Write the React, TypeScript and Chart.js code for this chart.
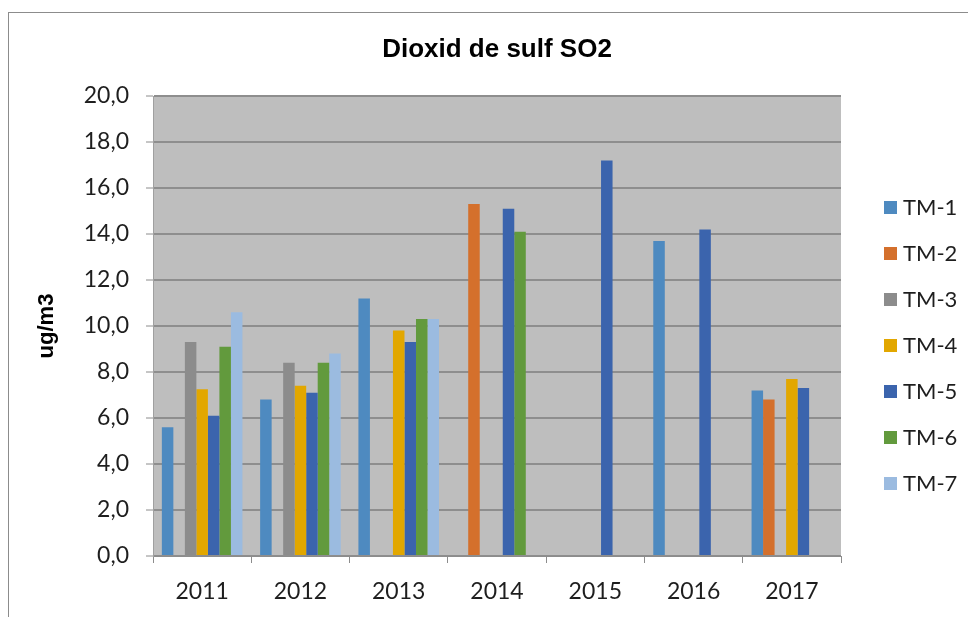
import React, { useEffect, useRef } from "react";
import { Chart, registerables } from "chart.js";

Chart.register(...registerables);

const TITLE = "Dioxid de sulf SO2";
const Y_TITLE = "ug/m3";
const YEARS = ["2011", "2012", "2013", "2014", "2015", "2016", "2017"];
const SERIES_NAMES = ["TM-1", "TM-2", "TM-3", "TM-4", "TM-5", "TM-6", "TM-7"];
const SERIES_COLORS = ["#4E8AC0", "#D4702C", "#8C8C8C", "#E2A700", "#3B64AD", "#629A3D", "#9BBBE0"];

const TM1 = [5.6, 6.8, 11.2, null, null, 13.7, 7.2];
const TM2 = [null, null, null, 15.3, null, null, 6.8];
const TM3 = [9.3, 8.4, null, null, null, null, null];
const TM4 = [7.25, 7.4, 9.8, null, null, null, 7.7];
const TM5 = [6.1, 7.1, 9.3, 15.1, 17.2, 14.2, 7.3];
const TM6 = [9.1, 8.4, 10.3, 14.1, null, null, null];
const TM7 = [10.6, 8.8, 10.3, null, null, null, null];
const SERIES_VALUES = [TM1, TM2, TM3, TM4, TM5, TM6, TM7];

const Y_MIN = 0;
const Y_MAX = 20;
const Y_STEP = 2;

const LABEL_FONT = "Lato";
const TITLE_FONT = "'Liberation Sans', Arial, sans-serif";

const framePlugin = {
  id: "frame",
  beforeDraw(chart: any) {
    const { ctx, chartArea, width, height } = chart;
    ctx.save();
    ctx.fillStyle = "#ffffff";
    ctx.fillRect(0, 0, width, height);
    ctx.strokeStyle = "#8c8c8c";
    ctx.lineWidth = 1;
    ctx.strokeRect(8.5, 12.5, width + 20, height + 20);
    ctx.fillStyle = "#bebebe";
    ctx.fillRect(chartArea.left, chartArea.top, chartArea.right - chartArea.left, chartArea.bottom - chartArea.top);
    ctx.restore();
  },
};

const legendPlugin = {
  id: "sideLegend",
  afterDraw(chart: any) {
    const { ctx } = chart;
    const x0 = 884;
    const y0 = 207.5;
    const gap = 46;
    ctx.save();
    ctx.font = `22px ${LABEL_FONT}`;
    ctx.textBaseline = "middle";
    ctx.textAlign = "left";
    chart.data.datasets.forEach((ds: any, i: number) => {
      const cy = y0 + i * gap;
      ctx.fillStyle = ds.backgroundColor;
      ctx.fillRect(x0, cy - 6.5, 13, 13);
      ctx.fillStyle = "#1e1e1e";
      ctx.fillText(ds.label, x0 + 19, cy);
    });
    ctx.restore();
  },
};

export default function App() {
  const ref = useRef<HTMLCanvasElement | null>(null);

  useEffect(() => {
    if (!ref.current) return;
    const chart = new Chart(ref.current, {
      type: "bar",
      data: {
        labels: YEARS,
        datasets: SERIES_NAMES.map((name, i) => ({
          label: name,
          data: SERIES_VALUES[i],
          backgroundColor: SERIES_COLORS[i],
          borderWidth: 0,
          categoryPercentage: 0.82,
          barPercentage: 1.0,
        })),
      },
      options: {
        responsive: false,
        animation: false,
        devicePixelRatio: 1,
        layout: { padding: { left: 0, right: 127, top: 0, bottom: 0 } },
        plugins: {
          legend: { display: false },
          tooltip: { enabled: false },
          title: {
            display: true,
            text: TITLE,
            fullSize: false,
            color: "#000000",
            font: { family: TITLE_FONT, size: 26, weight: "bold", lineHeight: 1.2 },
            padding: { top: 34, bottom: 30.8 },
          },
        },
        scales: {
          x: {
            grid: {
              display: true,
              drawOnChartArea: false,
              drawTicks: true,
              tickLength: 7,
              offset: true,
              color: "#8c8c8c",
              tickColor: "#8c8c8c",
            },
            border: { display: true, color: "#8c8c8c", width: 1 },
            ticks: {
              color: "#1e1e1e",
              font: { family: LABEL_FONT, size: 23 },
              padding: 15,
              maxRotation: 0,
            },
            afterFit(scale: any) {
              scale.height = 61;
            },
          },
          y: {
            min: Y_MIN,
            max: Y_MAX,
            grid: {
              color: "#8e8e8e",
              lineWidth: 2,
              drawTicks: true,
              tickLength: 7,
              tickColor: "#8c8c8c",
              tickWidth: 1,
            },
            border: { display: true, color: "#a0a0a0", width: 1 },
            ticks: {
              stepSize: Y_STEP,
              color: "#1e1e1e",
              font: { family: LABEL_FONT, size: 23 },
              padding: 17,
              callback: (v: any) => Number(v).toFixed(1).replace(".", ","),
            },
            title: {
              display: true,
              text: Y_TITLE,
              color: "#000000",
              font: { family: TITLE_FONT, size: 22, weight: "bold", lineHeight: 1.2 },
              padding: { top: 34, bottom: 0 },
            },
            afterFit(scale: any) {
              scale.width = 153;
            },
          },
        },
      },
      plugins: [framePlugin, legendPlugin],
    });
    return () => chart.destroy();
  }, []);

  return (
    <div style={{ position: "absolute", left: 0, top: 0, width: 968, height: 617 }}>
      <canvas ref={ref} width={968} height={617} style={{ display: "block" }} />
    </div>
  );
}
